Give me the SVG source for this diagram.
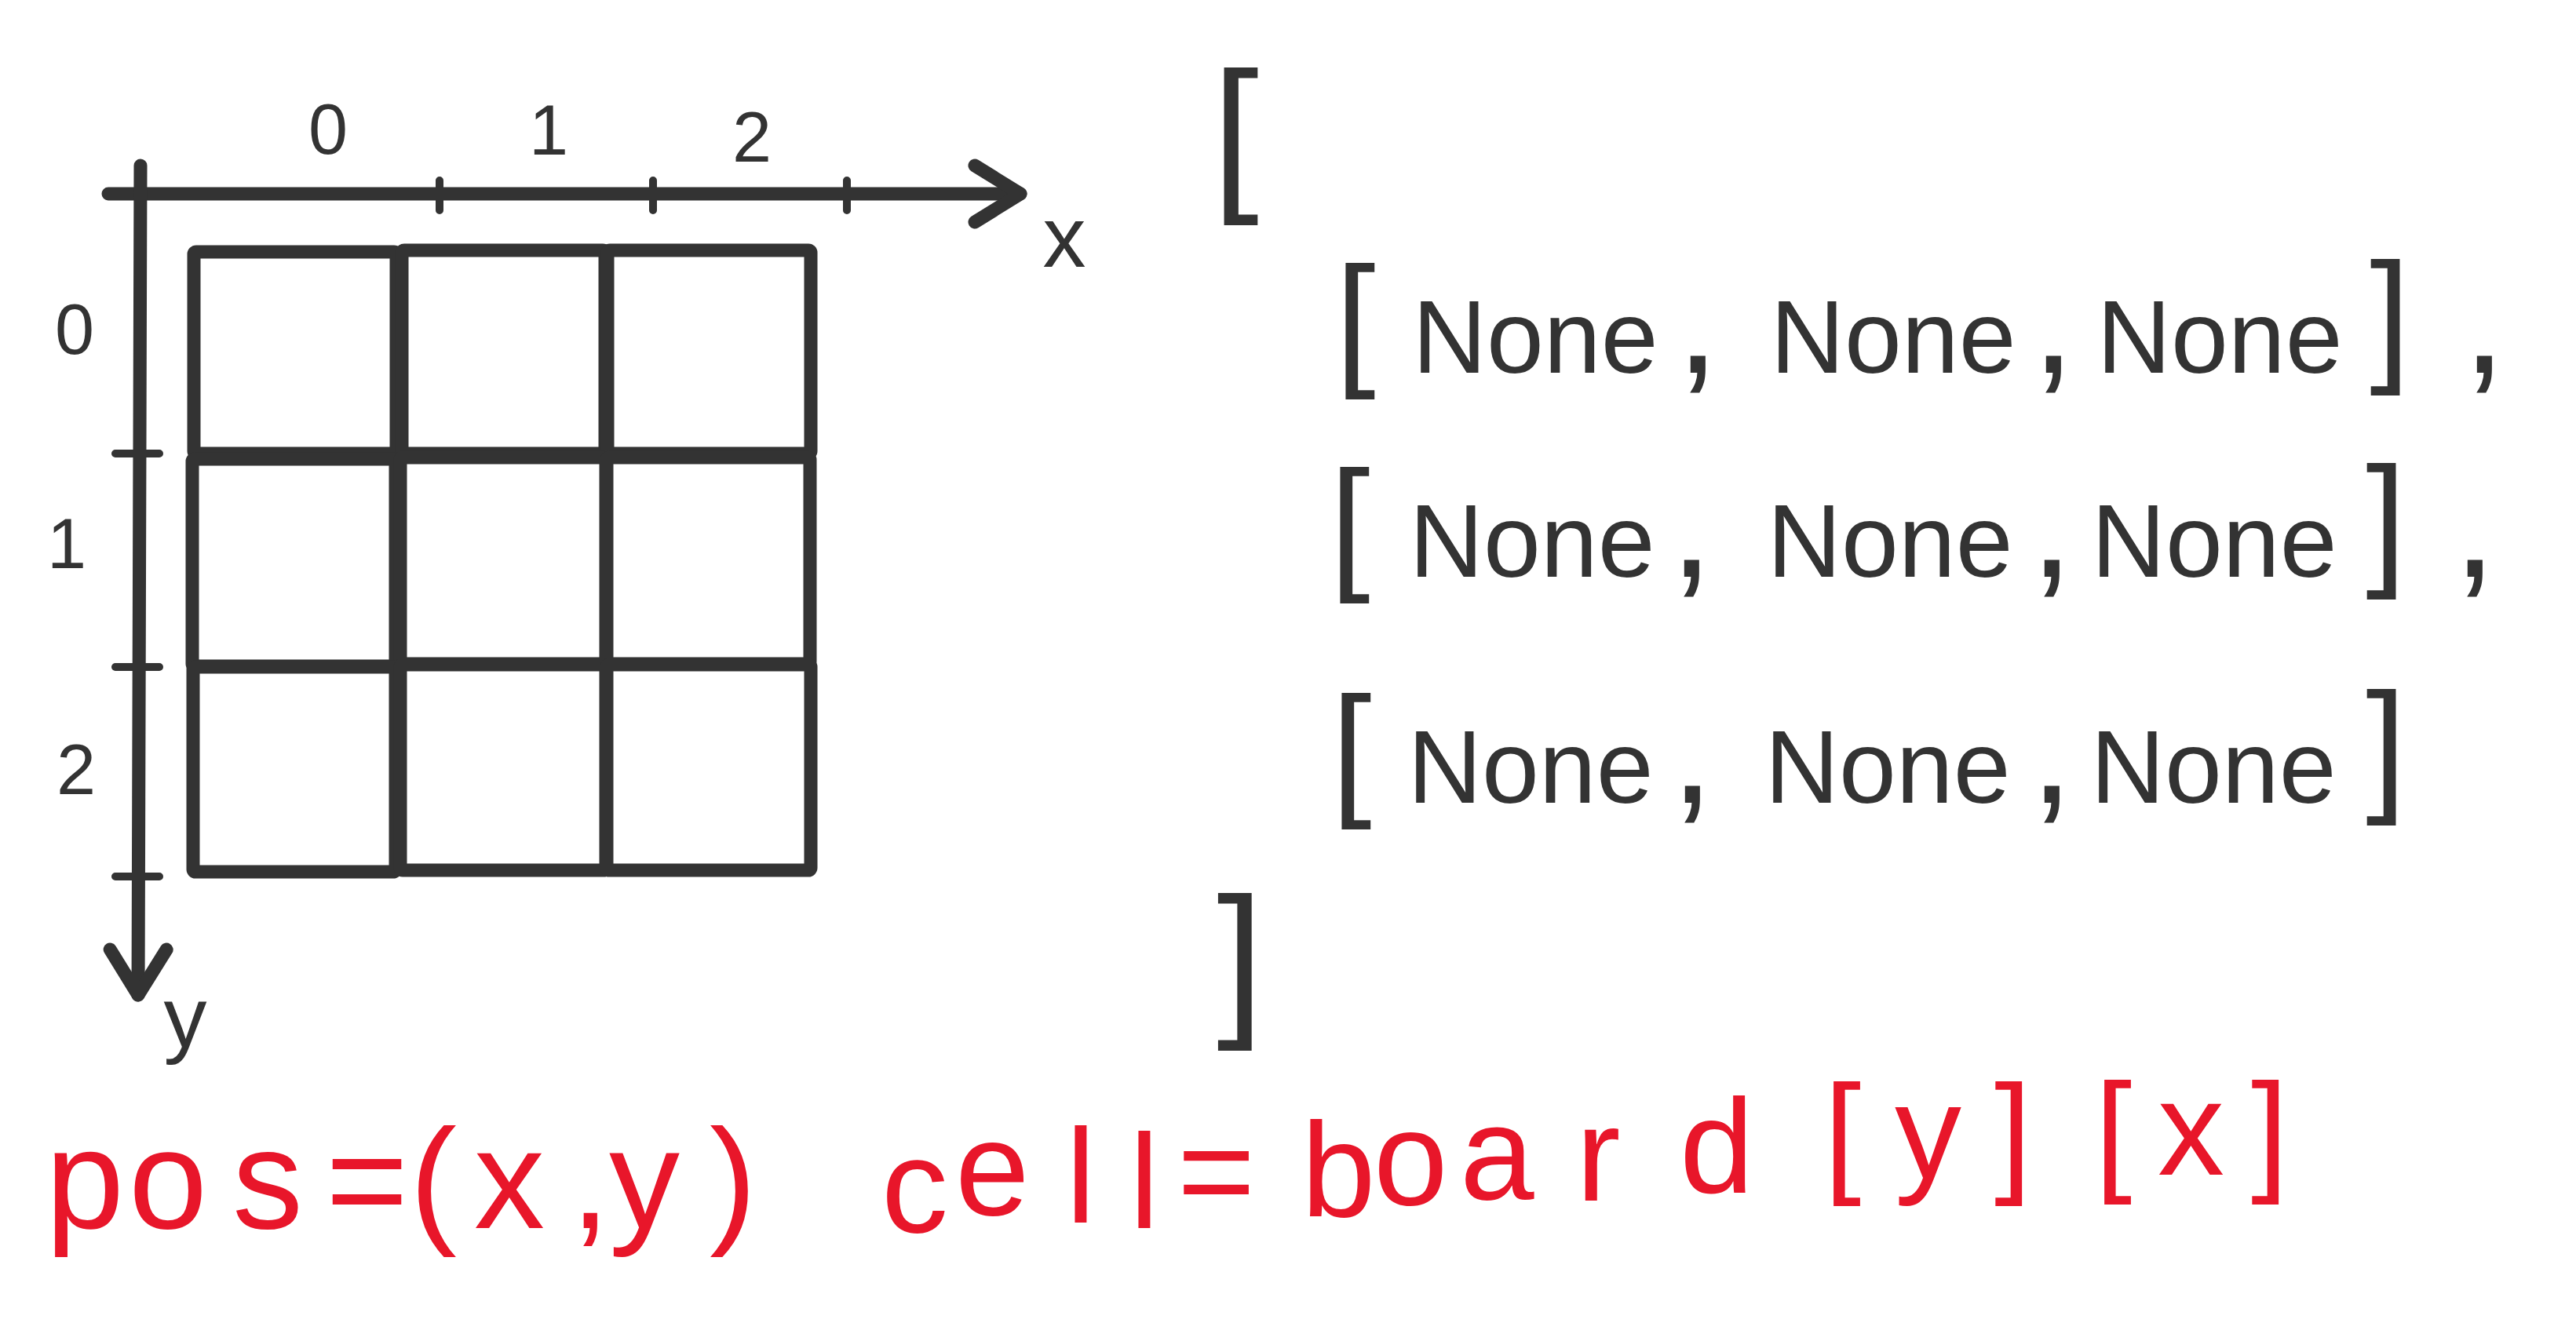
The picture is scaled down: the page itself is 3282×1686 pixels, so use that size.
<svg xmlns="http://www.w3.org/2000/svg" width="3282" height="1686" viewBox="0 0 3282 1686">
<style>
.ink{fill:none;stroke:#333;stroke-linecap:round;stroke-linejoin:round}
.axis{stroke-width:17}
.tick{stroke-width:10}
.cell{fill:none;stroke:#333;stroke-width:17;stroke-linejoin:round}
.t{font-family:"Liberation Sans",Arial,sans-serif;fill:#333}
.lbl{font-size:90px;text-anchor:middle}
.axl{font-size:110px;text-anchor:middle}
.row{font-size:131px;text-anchor:middle}
.br{font-size:185px}
.cm{font-size:200px}
.outer{font-size:215px;text-anchor:middle}
.red{font-family:"Liberation Sans",Arial,sans-serif;fill:#e8162a}
</style>
<defs>
<marker id="arrow" markerUnits="userSpaceOnUse" orient="auto" refX="0" refY="0" markerWidth="100" markerHeight="100" viewBox="-80 -50 100 100" overflow="visible">
<path d="M-58,-36 L0,0 L-58,36" fill="none" stroke="#333" stroke-width="17" stroke-linecap="round" stroke-linejoin="round"/>
</marker>
</defs>
<rect x="0" y="0" width="3282" height="1686" fill="#ffffff"/>

<g id="connectors">
<g id="x-axis">
<path class="ink axis" d="M138,247 L1300,247" marker-end="url(#arrow)"/>
<path class="ink tick" d="M560,230 L560,268 M832,230 L832,268 M1079,230 L1079,268"/>
</g>
<g id="y-axis">
<path class="ink axis" d="M179,211 L176,1268" marker-end="url(#arrow)"/>
<path class="ink tick" d="M147,578 L203,578 M147,850 L203,850 M147,1117 L203,1117"/>
</g>
</g>

<g id="axis-labels">
<text class="t axl" x="1356" y="340">x</text>
<text class="t axl" x="236" y="1334">y</text>
<text class="t lbl" x="418" y="196">0</text>
<text class="t lbl" x="699" y="197">1</text>
<text class="t lbl" x="958" y="206">2</text>
<text class="t lbl" x="95" y="451">0</text>
<text class="t lbl" x="85" y="724">1</text>
<text class="t lbl" x="97" y="1012">2</text>
</g>

<g id="grid">
<rect id="cell-0-0" class="cell" x="247" y="321" width="258" height="257" rx="3"/>
<rect id="cell-0-1" class="cell" x="512" y="319" width="259" height="259" rx="3"/>
<rect id="cell-0-2" class="cell" x="774" y="319" width="259" height="259" rx="3"/>
<rect id="cell-1-0" class="cell" x="245" y="585" width="259" height="264" rx="3"/>
<rect id="cell-1-1" class="cell" x="510" y="583" width="262" height="263" rx="3"/>
<rect id="cell-1-2" class="cell" x="773" y="583" width="259" height="263" rx="3"/>
<rect id="cell-2-0" class="cell" x="246" y="850" width="258" height="261" rx="3"/>
<rect id="cell-2-1" class="cell" x="510" y="847" width="262" height="262" rx="3"/>
<rect id="cell-2-2" class="cell" x="773" y="847" width="260" height="262" rx="3"/>
</g>

<g id="board-list">
<text class="t outer" x="1574" y="242">[</text>
<text class="t row" y="475"><tspan class="br" x="1727" y="470">[</tspan><tspan x="1956" y="475">None</tspan><tspan class="cm" x="2163">,</tspan><tspan x="2412">None</tspan><tspan class="cm" x="2616">,</tspan><tspan x="2828">None</tspan><tspan class="br" x="3045" y="465">]</tspan><tspan class="cm" x="3165" y="475">,</tspan></text>
<text class="t row" y="735"><tspan class="br" x="1720" y="730">[</tspan><tspan x="1952" y="735">None</tspan><tspan class="cm" x="2155">,</tspan><tspan x="2408">None</tspan><tspan class="cm" x="2614">,</tspan><tspan x="2821">None</tspan><tspan class="br" x="3040" y="725">]</tspan><tspan class="cm" x="3153" y="735">,</tspan></text>
<text class="t row" y="1023"><tspan class="br" x="1722" y="1018">[</tspan><tspan x="1950" y="1023">None</tspan><tspan class="cm" x="2156">,</tspan><tspan x="2405">None</tspan><tspan class="cm" x="2614">,</tspan><tspan x="2820">None</tspan><tspan class="br" x="3040" y="1013">]</tspan></text>
<text class="t outer" x="1580" y="1294">]</text>
</g>

<g id="formula">
<text class="red" font-size="180" x="58 164 296 415 522 604 727 776 904" y="1565">pos=(x,y)</text>
<text class="red" font-size="170" x="1123 1217 1358 1439 1500 1658 1750 1860 2008 2140 2324 2414 2541 2669 2749 2868" y="1570 1548 1558 1565 1551 1550 1535 1528 1530 1520 1502 1502 1502 1500 1497 1500">cell=board[y][x]</text>
</g>
</svg>
